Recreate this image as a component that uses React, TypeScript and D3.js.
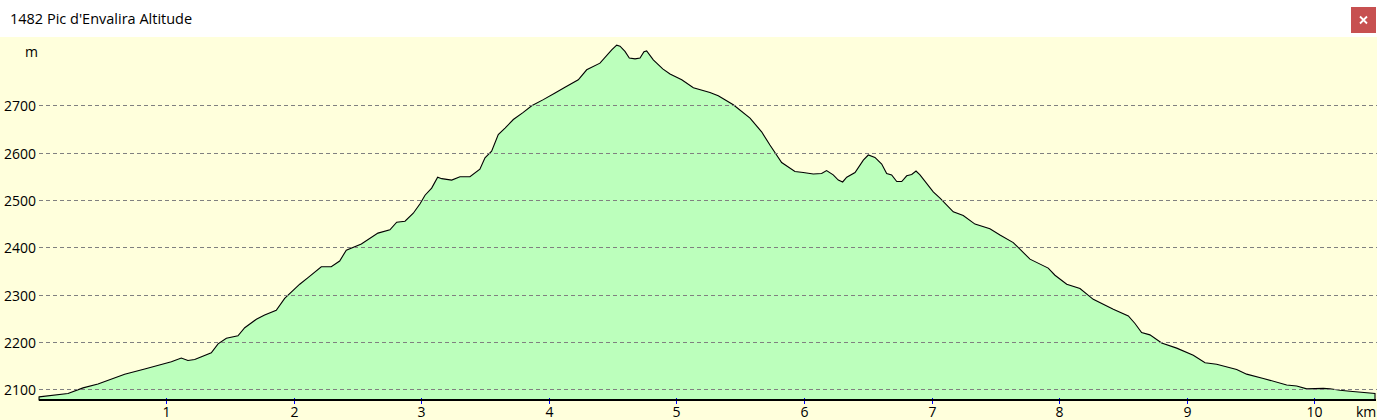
import * as d3 from 'd3'

const title = "1482 Pic d'Envalira Altitude"

// distance along the route, km
const distKm = [
  0.005, 0.232, 0.35, 0.467, 0.676, 0.833, 1.042, 1.12, 1.172, 1.225, 1.355, 1.408, 1.473, 1.564,
  1.617, 1.708, 1.773, 1.864, 1.93, 2.048, 2.113, 2.217, 2.295, 2.361, 2.413, 2.531, 2.661, 2.755,
  2.808, 2.873, 2.938, 2.991, 3.03, 3.082, 3.129, 3.161, 3.239, 3.304, 3.382, 3.46, 3.5, 3.552,
  3.604, 3.657, 3.722, 3.8, 3.866, 3.957, 4.049, 4.127, 4.231, 4.297, 4.401, 4.493, 4.532, 4.558,
  4.597, 4.631, 4.676, 4.715, 4.746, 4.767, 4.819, 4.893, 4.95, 5.042, 5.133, 5.263, 5.328, 5.446,
  5.577, 5.668, 5.733, 5.825, 5.929, 5.994, 6.073, 6.138, 6.177, 6.229, 6.269, 6.303, 6.335, 6.4,
  6.465, 6.504, 6.556, 6.609, 6.648, 6.687, 6.727, 6.766, 6.805, 6.844, 6.878, 6.909, 7.013, 7.066,
  7.17, 7.248, 7.34, 7.457, 7.536, 7.64, 7.771, 7.914, 7.967, 8.059, 8.163, 8.267, 8.424, 8.542,
  8.594, 8.646, 8.711, 8.803, 8.921, 9.051, 9.143, 9.234, 9.391, 9.469, 9.6, 9.783, 9.861, 9.94,
  10.07, 10.122, 10.201, 10.279, 10.475,
]

// altitude, m
const altM = [
  2084, 2091, 2103, 2111, 2132, 2143, 2158, 2166, 2161, 2163, 2177, 2196, 2208, 2213,
  2230, 2248, 2257, 2267, 2292, 2322, 2336, 2359, 2359, 2371, 2394, 2407, 2430, 2437,
  2453, 2455, 2472, 2492, 2510, 2525, 2548, 2545, 2542, 2549, 2549, 2565, 2589, 2603,
  2638, 2652, 2670, 2685, 2699, 2712, 2726, 2738, 2754, 2775, 2789, 2817, 2827, 2825,
  2814, 2800, 2798, 2800, 2813, 2815, 2796, 2777, 2766, 2754, 2737, 2727, 2720, 2701,
  2673, 2644, 2616, 2579, 2560, 2558, 2555, 2556, 2562, 2553, 2542, 2538, 2548, 2558,
  2584, 2595, 2590, 2576, 2556, 2553, 2539, 2539, 2551, 2554, 2561, 2553, 2517, 2504,
  2475, 2467, 2449, 2439, 2426, 2410, 2375, 2356, 2341, 2322, 2313, 2290, 2269, 2255,
  2239, 2220, 2215, 2198, 2187, 2172, 2156, 2153, 2142, 2132, 2123, 2109, 2107, 2101,
  2102, 2101, 2098, 2096, 2091,
]

const altTicks = [2100, 2200, 2300, 2400, 2500, 2600, 2700]
const kmTicks = [1, 2, 3, 4, 5, 6, 7, 8, 9, 10]

const font = "'Open Sans', 'Noto Sans', sans-serif"

export default function App() {
  const W = 1377
  const H = 420
  const baseY = 400

  const x = d3.scaleLinear().domain([0, 10.475]).range([38.4, 1375])
  const y = d3.scaleLinear().domain([2100, 2700]).range([389.3, 105.3])

  const pts: [number, number][] = distKm.map((d, i) => [d, altM[i]])
  const area = d3
    .area<[number, number]>()
    .x((d) => x(d[0]))
    .y0(baseY)
    .y1((d) => y(d[1]))

  return (
    <svg
      width={W}
      height={H}
      style={{ position: 'fixed', left: 0, top: 0, fontFamily: font }}
    >
      <rect x={0} y={0} width={W} height={37} fill='#ffffff' />
      <text x={10} y={24} fontSize={14.5} fill='#000'>
        {title}
      </text>
      {/* close button */}
      <rect x={1351} y={7} width={25} height={26} fill='#c75050' />
      <path
        d='M1360,16.5 L1367,23.5 M1367,16.5 L1360,23.5'
        stroke='#fff'
        strokeWidth={1.8}
      />

      <rect x={0} y={37} width={W} height={H - 37} fill='#ffffdc' />

      <path
        d={area(pts) ?? ''}
        fill='#bcffbc'
        stroke='#000'
        strokeWidth={1.1}
      />

      {/* grid lines */}
      {altTicks.map((t) => {
        const yy = Math.round(y(t)) + 0.5
        return (
          <g key={t}>
            <line
              x1={39}
              x2={W}
              y1={yy}
              y2={yy}
              stroke='#808080'
              strokeDasharray='4,3'
            />
            <text
              x={36}
              y={yy + 5}
              fontSize={14}
              textAnchor='end'
              fill='#000'
            >
              {t}
            </text>
          </g>
        )
      })}

      {/* x axis */}
      {kmTicks.map((k) => {
        const xx = Math.round(x(k)) + 0.5
        return (
          <g key={k}>
            <line x1={xx} x2={xx} y1={398} y2={404} stroke='#0000ff' />
            <text
              x={xx}
              y={417}
              fontSize={14}
              textAnchor='middle'
              fill='#000'
            >
              {k}
            </text>
          </g>
        )
      })}
      <line x1={39} x2={1376} y1={400} y2={400} stroke='#000' strokeWidth={2} />

      <text x={1356} y={417} fontSize={14} fill='#000'>
        km
      </text>
      <text x={25} y={57} fontSize={14} fill='#000'>
        m
      </text>
    </svg>
  )
}
